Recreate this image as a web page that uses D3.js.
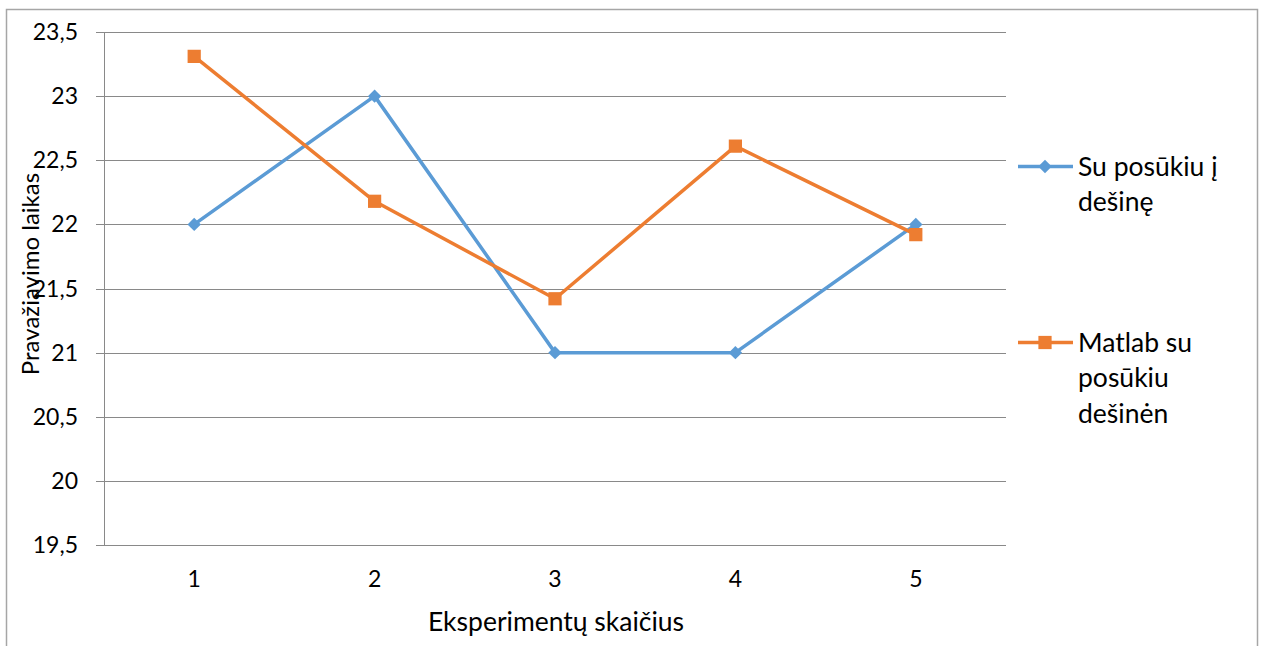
<!DOCTYPE html>
<html>
<head>
<meta charset="utf-8">
<script src="https://cdn.jsdelivr.net/npm/d3@7"></script>
<style>
  html, body { margin: 0; padding: 0; background: #fff; }
  svg { display: block; font-family: Lato, "Open Sans", sans-serif; }
</style>
</head>
<body>
<svg id="chart" width="1264" height="646"></svg>
<script>
// Experiment numbers along the x axis
const categories = ["1", "2", "3", "4", "5"];
// Travel times for each series
const seriesRight = [22, 23, 21, 21, 22];
const seriesMatlab = [23.31, 22.18, 21.42, 22.61, 21.92];
// Y axis ticks
const yTicks = [19.5, 20, 20.5, 21, 21.5, 22, 22.5, 23, 23.5];
const seriesNames = [["Su posūkiu į", "dešinę"], ["Matlab su", "posūkiu", "dešinėn"]];
const colors = ["#5B9BD5", "#ED7D31"];

const svg = d3.select("#chart");
const plot = { left: 104, right: 1006, top: 32, bottom: 545 };

// Outer chart border (open at the bottom)
svg.append("path")
  .attr("d", "M6.5,646 V9.5 H1257.5 V646")
  .attr("fill", "none").attr("stroke", "#a6a6a6").attr("stroke-width", 1.5);

const x = d3.scaleBand().domain(categories).range([plot.left, plot.right]);
const y = d3.scaleLinear().domain([19.5, 23.5]).range([plot.bottom, plot.top]);
const fmt = v => String(v).replace(".", ",");

// Horizontal gridlines
svg.append("g").selectAll("line").data(yTicks).join("line")
  .attr("x1", plot.left - 8).attr("x2", plot.right)
  .attr("y1", d => Math.round(y(d)) + 0.5).attr("y2", d => Math.round(y(d)) + 0.5)
  .attr("stroke", "#898989").attr("stroke-width", 1);

// Vertical axis line
svg.append("line")
  .attr("x1", plot.left + 0.5).attr("x2", plot.left + 0.5)
  .attr("y1", plot.top).attr("y2", plot.bottom)
  .attr("stroke", "#898989");

// Y tick labels
svg.append("g").selectAll("text").data(yTicks).join("text")
  .attr("x", 78).attr("y", d => y(d) + 8)
  .attr("text-anchor", "end").attr("font-size", 23).attr("fill", "#000")
  .text(fmt);

// X tick labels
svg.append("g").selectAll("text").data(categories).join("text")
  .attr("x", d => x(d) + x.bandwidth() / 2).attr("y", 587)
  .attr("text-anchor", "middle").attr("font-size", 23).attr("fill", "#000")
  .text(d => d);

// Axis titles
svg.append("text")
  .attr("x", 556).attr("y", 631).attr("text-anchor", "middle")
  .attr("font-size", 26.5).attr("fill", "#000")
  .text("Eksperimentų skaičius");
svg.append("text")
  .attr("transform", "translate(39,274) rotate(-90)")
  .attr("text-anchor", "middle").attr("font-size", 24).attr("fill", "#000")
  .text("Pravažiavimo laikas");

const line = d3.line()
  .x((d, i) => x(categories[i]) + x.bandwidth() / 2)
  .y(d => y(d));

// Square diamond marker and square marker
const diamond = d3.symbol().type({
  draw(ctx, size) {
    const r = Math.sqrt(size / 2);
    ctx.moveTo(0, -r); ctx.lineTo(r, 0); ctx.lineTo(0, r); ctx.lineTo(-r, 0); ctx.closePath();
  }
}).size(90);
const square = d3.symbol().type(d3.symbolSquare).size(175);

[seriesRight, seriesMatlab].forEach((vals, k) => {
  svg.append("path").datum(vals)
    .attr("d", line).attr("fill", "none")
    .attr("stroke", colors[k]).attr("stroke-width", 3.5)
    .attr("stroke-linejoin", "round");
  svg.append("g").selectAll("path").data(vals).join("path")
    .attr("transform", (d, i) => `translate(${x(categories[i]) + x.bandwidth() / 2},${y(d)})`)
    .attr("d", k === 0 ? diamond : square)
    .attr("fill", colors[k]);
});

// Legend
const legendY = [166.5, 342.5];
seriesNames.forEach((lines, k) => {
  const g = svg.append("g");
  g.append("line").attr("x1", 1018).attr("x2", 1073)
    .attr("y1", legendY[k]).attr("y2", legendY[k])
    .attr("stroke", colors[k]).attr("stroke-width", 3.5);
  g.append("path")
    .attr("transform", `translate(1045,${legendY[k]})`)
    .attr("d", k === 0 ? diamond : square).attr("fill", colors[k]);
  g.selectAll("text").data(lines).join("text")
    .attr("x", 1078).attr("y", (d, i) => legendY[k] + 9 + i * 35.5)
    .attr("font-size", 26.5).attr("fill", "#000")
    .text(d => d);
});
</script>
</body>
</html>
